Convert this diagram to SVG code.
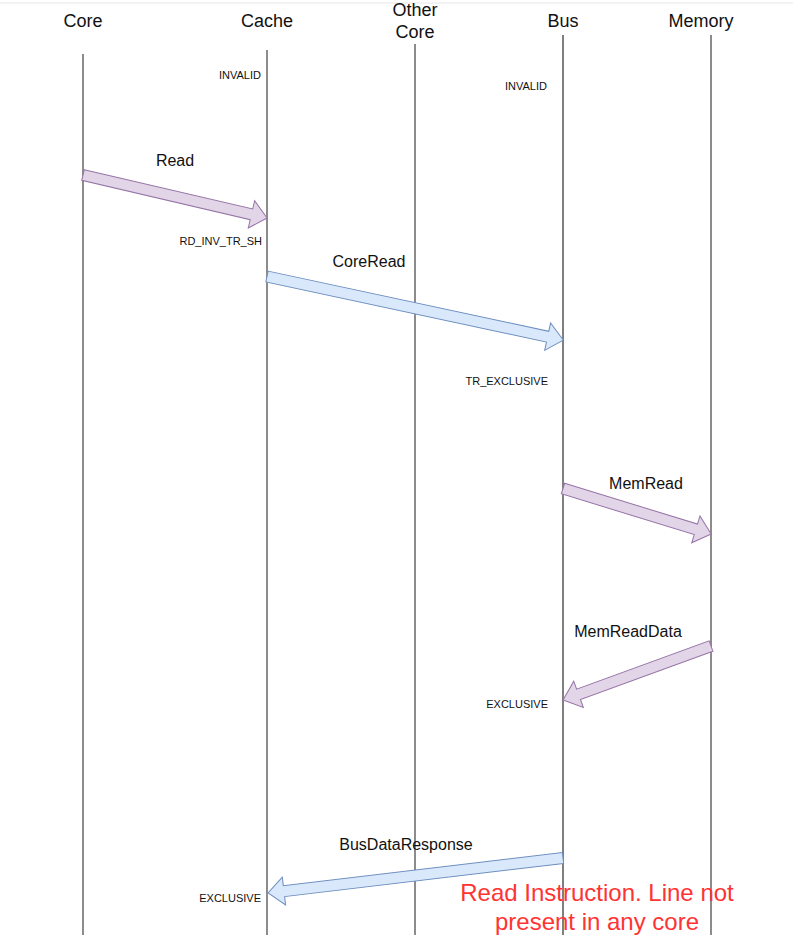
<svg xmlns="http://www.w3.org/2000/svg" width="793" height="935" viewBox="0 0 793 935">
<style>
.hdr{font-family:"Liberation Sans",Arial,sans-serif;font-size:18px;fill:#111;text-anchor:middle}
.lbl{font-family:"Liberation Sans",Arial,sans-serif;font-size:16px;fill:#111;text-anchor:middle}
.st{font-family:"Liberation Sans",Arial,sans-serif;font-size:11px;fill:#111;text-anchor:end}
.note{font-family:"Liberation Sans",Arial,sans-serif;font-size:24px;fill:#ff3333;text-anchor:middle}
.life{stroke:#666;stroke-width:1.5;fill:none}
.bus{stroke:#000;stroke-width:1;fill:none}
.purple{fill:#e1d5e7;stroke:#9673a6;stroke-width:1}
.blue{fill:#dae8fc;stroke:#6c8ebf;stroke-width:1}
</style>
<rect x="0" y="0" width="793" height="935" fill="#fff"/>
<line x1="0" y1="3" x2="793" y2="3" stroke="#e6e6e6" stroke-width="1"/>
<g id="core">
<text class="hdr" x="83" y="27">Core</text>
<line class="life" x1="83" y1="54" x2="83" y2="935"/>
</g>
<g id="cache">
<text class="hdr" x="267" y="27">Cache</text>
<line class="life" x1="267" y1="50" x2="267" y2="935"/>
<text class="st" x="261" y="79">INVALID</text>
<text class="st" x="262" y="245">RD_INV_TR_SH</text>
<text class="st" x="261" y="902">EXCLUSIVE</text>
</g>
<g id="other-core">
<text class="hdr" x="415" y="16">Other</text>
<text class="hdr" x="415" y="38">Core</text>
<line class="life" x1="415" y1="44" x2="415" y2="935"/>
</g>
<g id="bus">
<text class="hdr" x="563" y="27">Bus</text>
<line class="bus" x1="563" y1="35" x2="563" y2="935"/>
<text class="st" x="547" y="90">INVALID</text>
<text class="st" x="548" y="385">TR_EXCLUSIVE</text>
<text class="st" x="548" y="708">EXCLUSIVE</text>
</g>
<g id="memory">
<text class="hdr" x="701" y="27">Memory</text>
<line class="life" x1="711" y1="35" x2="711" y2="935"/>
</g>
<g id="connectors">
<g id="read">
<polygon class="purple" transform="translate(83,175) rotate(13.15)" points="0,-5.5 173,-5.5 173,-14 189,0 173,14 173,5.5 0,5.5"/>
<text class="lbl" x="175" y="166">Read</text>
</g>
<g id="coreread">
<polygon class="blue" transform="translate(267,276.5) rotate(12.11)" points="0,-5.5 287,-5.5 287,-14 303,0 287,14 287,5.5 0,5.5"/>
<text class="lbl" x="369" y="267">CoreRead</text>
</g>
<g id="memread">
<polygon class="purple" transform="translate(563,488.5) rotate(17.09)" points="0,-5.5 139,-5.5 139,-14 155,0 139,14 139,5.5 0,5.5"/>
<text class="lbl" x="646" y="489">MemRead</text>
</g>
<g id="memreaddata">
<polygon class="purple" transform="translate(711,646) rotate(159.95)" points="0,-5.5 141,-5.5 141,-14 157.5,0 141,14 141,5.5 0,5.5"/>
<text class="lbl" x="628" y="637">MemReadData</text>
</g>
<g id="busdataresponse">
<polygon class="blue" transform="translate(563,858) rotate(173.23)" points="0,-5.5 281,-5.5 281,-14 297,0 281,14 281,5.5 0,5.5"/>
<text class="lbl" x="406" y="850">BusDataResponse</text>
</g>
</g>
<g id="note">
<text class="note" x="597" y="901">Read Instruction. Line not</text>
<text class="note" x="597" y="930">present in any core</text>
</g>
</svg>
